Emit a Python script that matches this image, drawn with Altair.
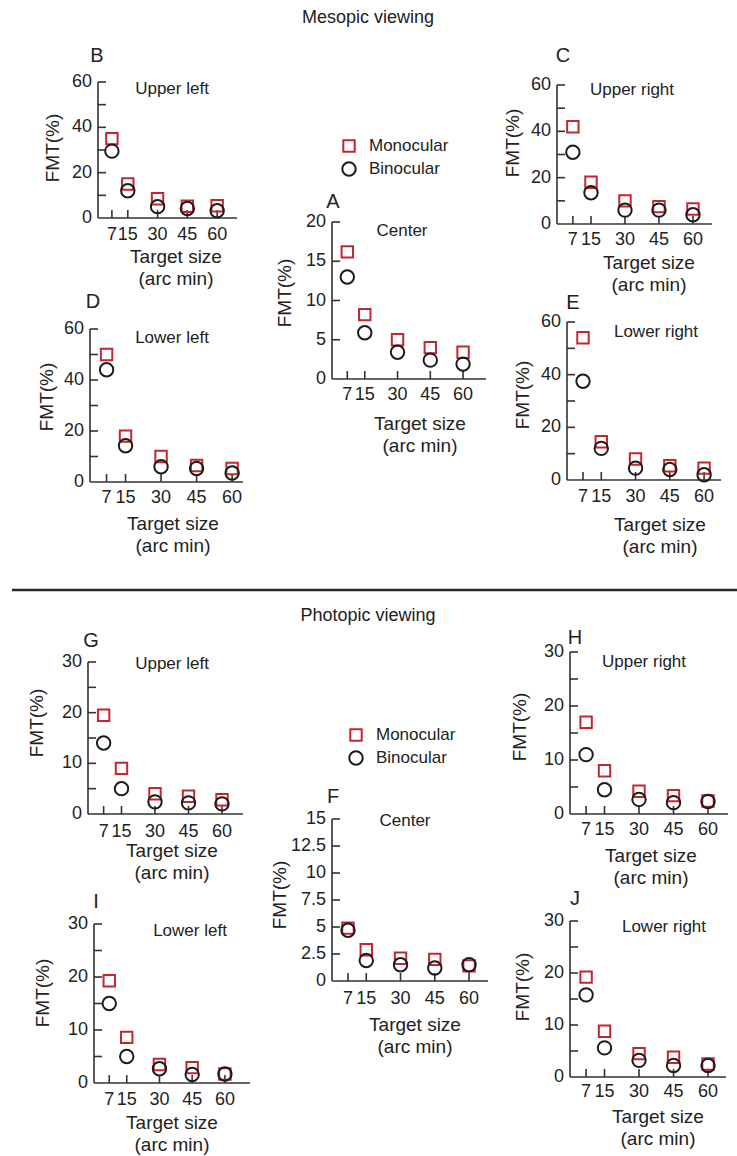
import altair as alt
import pandas as pd

FONT = "Liberation Sans, Arial, sans-serif"
W, H = 737, 1156
INK = "#222"
AXIS_INK = "#333"

SIZES = [7, 15, 30, 45, 60]
SERIES = ["Monocular", "Binocular"]
MARKER_SHAPES = ["square", "circle"]
MARKER_COLORS = ["#c4262e", "#1c1c1c"]
MARKER_SIZES = [130, 180]

# FMT (%) by target size (arc min) for each retinal location
meso_center_mono = [16.2, 8.2, 5.0, 4.0, 3.4]
meso_center_bino = [13.0, 5.9, 3.4, 2.4, 1.9]
meso_ul_mono = [35, 15, 8.5, 5.2, 5.4]
meso_ul_bino = [29.5, 12, 5, 4.2, 3.2]
meso_ur_mono = [42, 18, 10, 7.5, 6.5]
meso_ur_bino = [31, 13.5, 6, 6, 4]
meso_ll_mono = [50, 18, 10, 6.5, 5.3]
meso_ll_bino = [44, 14.2, 6, 5.3, 3.5]
meso_lr_mono = [54, 14.5, 8, 5.4, 4.5]
meso_lr_bino = [37.5, 12, 4.5, 4, 2]

photo_center_mono = [4.9, 2.9, 2.1, 2.0, 1.4]
photo_center_bino = [4.7, 1.9, 1.5, 1.2, 1.5]
photo_ul_mono = [19.5, 9, 4, 3.5, 2.8]
photo_ul_bino = [14, 5, 2.4, 2.2, 2]
photo_ur_mono = [17, 8, 4.2, 3.4, 2.4]
photo_ur_bino = [11, 4.5, 2.7, 2.1, 2.3]
photo_ll_mono = [19.3, 8.6, 3.5, 2.9, 1.7]
photo_ll_bino = [15, 5, 2.7, 1.6, 1.7]
photo_lr_mono = [19.2, 8.8, 4.5, 3.8, 2.5]
photo_lr_bino = [15.8, 5.6, 3.2, 2.2, 2.2]

X_TITLE = ["Target size", "(arc min)"]
Y_TITLE = "FMT(%)"

# panel geometry: pixel ranges of each panel's axes and where its texts sit
PANELS = [
    dict(letter="B", region="Upper left", mono=meso_ul_mono, bino=meso_ul_bino,
         ymax=60, ytick=10, ylabel=20, x_px=(98, 237), x_max=70, y_px=(218, 82),
         letter_xy=(97, 56), region_xy=(172, 89), xlab_y=235, xtitle_xy=(176, 257),
         ytitle_xy=(53, 148)),
    dict(letter="C", region="Upper right", mono=meso_ur_mono, bino=meso_ur_bino,
         ymax=60, ytick=10, ylabel=20, x_px=(557, 712), x_max=68.4, y_px=(224, 85),
         letter_xy=(563, 56), region_xy=(632, 90), xlab_y=240, xtitle_xy=(649, 263),
         ytitle_xy=(513, 143)),
    dict(letter="D", region="Lower left", mono=meso_ll_mono, bino=meso_ll_bino,
         ymax=60, ytick=10, ylabel=20, x_px=(90, 243), x_max=64.6, y_px=(482, 329),
         letter_xy=(93, 302), region_xy=(172, 338), xlab_y=498, xtitle_xy=(173, 524),
         ytitle_xy=(47, 397)),
    dict(letter="E", region="Lower right", mono=meso_lr_mono, bino=meso_lr_bino,
         ymax=60, ytick=10, ylabel=20, x_px=(567, 721), x_max=67.4, y_px=(480, 322),
         letter_xy=(573, 303), region_xy=(656, 332), xlab_y=497, xtitle_xy=(660, 525),
         ytitle_xy=(523, 395)),
    dict(letter="A", region="Center", mono=meso_center_mono, bino=meso_center_bino,
         ymax=20, ytick=5, ylabel=5, x_px=(332, 486), x_max=70.5, y_px=(379, 222),
         letter_xy=(333, 202), region_xy=(402, 231), xlab_y=395, xtitle_xy=(420, 424),
         ytitle_xy=(285, 293)),
    dict(letter="G", region="Upper left", mono=photo_ul_mono, bino=photo_ul_bino,
         ymax=30, ytick=5, ylabel=10, x_px=(88, 243), x_max=69.4, y_px=(814, 662),
         letter_xy=(91, 641), region_xy=(172, 664), xlab_y=832, xtitle_xy=(172, 851),
         ytitle_xy=(37, 723)),
    dict(letter="H", region="Upper right", mono=photo_ur_mono, bino=photo_ur_bino,
         ymax=30, ytick=5, ylabel=10, x_px=(570, 728), x_max=68.7, y_px=(814, 652),
         letter_xy=(575, 638), region_xy=(644, 662), xlab_y=830, xtitle_xy=(651, 856),
         ytitle_xy=(520, 727)),
    dict(letter="F", region="Center", mono=photo_center_mono, bino=photo_center_bino,
         ymax=15, ytick=2.5, ylabel=2.5, x_px=(332, 488), x_max=68.3, y_px=(981, 819),
         letter_xy=(333, 797), region_xy=(405, 821), xlab_y=999, xtitle_xy=(415, 1025),
         ytitle_xy=(280, 895)),
    dict(letter="I", region="Lower left", mono=photo_ll_mono, bino=photo_ll_bino,
         ymax=30, ytick=5, ylabel=10, x_px=(94, 250), x_max=71.5, y_px=(1083, 924),
         letter_xy=(96, 902), region_xy=(190, 931), xlab_y=1100, xtitle_xy=(172, 1123),
         ytitle_xy=(43, 993)),
    dict(letter="J", region="Lower right", mono=photo_lr_mono, bino=photo_lr_bino,
         ymax=30, ytick=5, ylabel=10, x_px=(570, 726), x_max=67.8, y_px=(1077, 921),
         letter_xy=(575, 899), region_xy=(664, 927), xlab_y=1092, xtitle_xy=(658, 1117),
         ytitle_xy=(523, 987)),
]

TICK_LEN = 8
LINE_W = 1.6
LABEL_SIZE = 18
TITLE_SIZE = 19
shape_enc = alt.Shape("series:N", scale=alt.Scale(domain=SERIES, range=MARKER_SHAPES), legend=None)
color_enc = alt.Color("series:N", scale=alt.Scale(domain=SERIES, range=MARKER_COLORS), legend=None)
size_enc = alt.Size("series:N", scale=alt.Scale(domain=SERIES, range=MARKER_SIZES), legend=None)


def steps(stop, step):
    out, v = [], 0.0
    while v <= stop + 1e-9:
        out.append(round(v, 2))
        v += step
    return out


def label_text(text, x, y, size=17, angle=0, align="center"):
    return alt.Chart(pd.DataFrame({"t": [text]})).mark_text(
        font=FONT, fontSize=size, color=INK, angle=angle, align=align, baseline="middle",
        lineHeight=22).encode(text="t", x=alt.value(x), y=alt.value(y))


def panel(p):
    x0, x1 = p["x_px"]
    ybot, ytop = p["y_px"]
    xs = alt.Scale(domain=[0, p["x_max"]], range=[x0, x1], nice=False, zero=False)
    ys = alt.Scale(domain=[0, p["ymax"]], range=[ybot, ytop], nice=False)

    rows = []
    for name, vals in zip(SERIES, (p["mono"], p["bino"])):
        for s, v in zip(SIZES, vals):
            rows.append({"size": s, "fmt": v, "series": name})

    pts = alt.Chart(pd.DataFrame(rows)).mark_point(filled=False, strokeWidth=2, opacity=1).encode(
        x=alt.X("size:Q", scale=xs, axis=None),
        y=alt.Y("fmt:Q", scale=ys, axis=None),
        shape=shape_enc, color=color_enc, size=size_enc,
    )

    # axis lines
    frame = pd.DataFrame({"lo": [0.0], "xhi": [p["x_max"]], "yhi": [p["ymax"]]})
    xline = alt.Chart(frame).mark_rule(color=AXIS_INK, strokeWidth=LINE_W).encode(
        x=alt.X("lo:Q", scale=xs, axis=None), x2="xhi:Q",
        y=alt.Y("lo:Q", scale=ys, axis=None))
    yline = alt.Chart(frame).mark_rule(color=AXIS_INK, strokeWidth=LINE_W).encode(
        x=alt.X("lo:Q", scale=xs, axis=None),
        y=alt.Y("lo:Q", scale=ys, axis=None), y2="yhi:Q")

    # inward tick marks
    xt = alt.Chart(pd.DataFrame({"v": SIZES})).mark_rule(color=AXIS_INK, strokeWidth=LINE_W).encode(
        x=alt.X("v:Q", scale=xs, axis=None),
        y=alt.value(ybot), y2=alt.value(ybot - TICK_LEN),
    )
    yt = alt.Chart(pd.DataFrame({"v": steps(p["ymax"], p["ytick"])[1:]})).mark_rule(
        color=AXIS_INK, strokeWidth=LINE_W).encode(
        y=alt.Y("v:Q", scale=ys, axis=None),
        x=alt.value(x0), x2=alt.value(x0 + TICK_LEN),
    )

    # tick labels
    xl = alt.Chart(pd.DataFrame({"v": SIZES, "t": [str(s) for s in SIZES]})).mark_text(
        font=FONT, fontSize=LABEL_SIZE, color=INK, baseline="middle").encode(
        x=alt.X("v:Q", scale=xs, axis=None), y=alt.value(p["xlab_y"]), text="t:N")
    yvals = steps(p["ymax"], p["ylabel"])
    yl = alt.Chart(pd.DataFrame({"v": yvals, "t": [f"{v:g}" for v in yvals]})).mark_text(
        font=FONT, fontSize=LABEL_SIZE, color=INK, align="right", baseline="middle").encode(
        y=alt.Y("v:Q", scale=ys, axis=None), x=alt.value(x0 - 6), text="t:N")

    texts = [
        label_text(p["region"], *p["region_xy"], size=17),
        label_text(p["letter"], *p["letter_xy"], size=20),
        label_text(X_TITLE, *p["xtitle_xy"], size=TITLE_SIZE),
        label_text(Y_TITLE, *p["ytitle_xy"], size=TITLE_SIZE, angle=270),
    ]
    return alt.layer(xline, yline, yt, xt, xl, yl, pts, *texts)


def legend(x_sym, y_rows):
    df = pd.DataFrame({"series": SERIES})
    ysc = alt.Scale(domain=SERIES, range=list(y_rows), padding=0)
    sym = alt.Chart(df).mark_point(filled=False, strokeWidth=2, opacity=1).encode(
        x=alt.value(x_sym), y=alt.Y("series:N", scale=ysc, axis=None),
        shape=shape_enc, color=color_enc, size=size_enc)
    txt = alt.Chart(df).mark_text(font=FONT, fontSize=17, color=INK, align="left").encode(
        x=alt.value(x_sym + 20), y=alt.Y("series:N", scale=ysc, axis=None), text="series:N")
    return alt.layer(sym, txt)


separator = alt.Chart(pd.DataFrame({"k": [0]})).mark_rule(color="#2a2a2a", strokeWidth=2.5).encode(
    x=alt.value(12), x2=alt.value(W), y=alt.value(590))

layers = [panel(p) for p in PANELS]
layers += [
    legend(349, (146, 169)),
    legend(356, (735, 758)),
    label_text("Mesopic viewing", 368, 18, size=18),
    label_text("Photopic viewing", 368, 616, size=18),
    separator,
]

chart = alt.layer(*layers).resolve_scale(x="independent", y="independent").properties(
    width=W, height=H, padding=0, background="white",
    autosize=alt.AutoSizeParams(type="none"),
).configure_view(stroke=None)

chart.save("out.html", embed_options={"renderer": "svg", "actions": False})
